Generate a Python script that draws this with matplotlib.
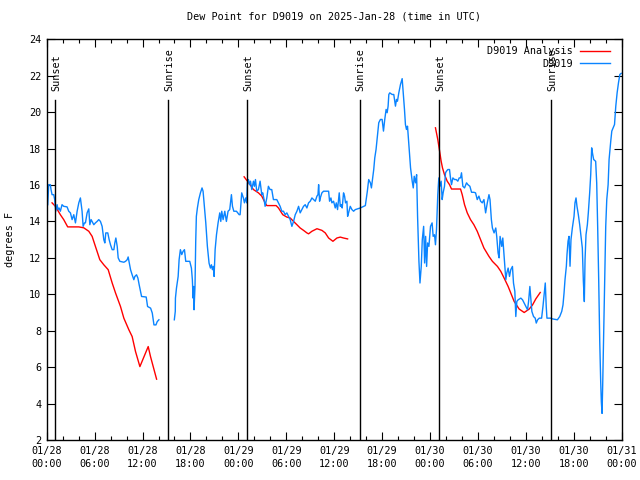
import matplotlib
matplotlib.use("Agg")
import matplotlib.pyplot as plt
import matplotlib.dates as mdates
import matplotlib.transforms as mtransforms
import numpy as np
import pandas as pd

# ---- data (hours after 2025-01-28 00:00 UTC, degrees F) ----
obs_night1 = [(0.13,14.92),(0.25,16.02),(0.46,16.02),(0.54,15.75),(0.67,15.47),(0.88,15.47),(1.0,15.2),(1.13,14.56),(1.3,14.92),(1.42,14.65),(1.55,14.74),(1.71,14.56),(1.92,14.92),(2.13,14.83),(2.55,14.8),(2.76,14.56),(2.97,14.47),(3.18,14.1),(3.39,14.37),(3.6,13.92),(3.81,14.56),(4.02,15.02),(4.22,15.29),(4.43,14.56),(4.56,13.73),(4.73,13.92),(4.85,13.92),(5.06,14.47),(5.27,14.69),(5.4,13.82),(5.56,14.1),(5.77,13.92),(5.9,13.82),(6.1,13.92),(6.31,14.0),(6.52,14.1),(6.73,14.0),(6.94,13.73),(7.15,13.0),(7.28,12.82),(7.4,13.37),(7.65,13.37),(7.82,13.0),(7.99,12.72),(8.2,12.45),(8.41,12.45),(8.53,12.82),(8.66,13.09),(8.83,12.63),(8.95,12.0),(9.16,11.81),(9.66,11.76),(9.87,11.81),(10.08,11.9),(10.2,12.05),(10.33,11.74),(10.5,11.35),(10.7,11.07),(10.91,10.8),(11.04,10.98),(11.25,11.07),(11.42,10.89),(11.58,10.52),(11.75,10.16),(11.88,9.88),(12.46,9.85),(12.63,9.33),(13.01,9.24),(13.22,8.97),(13.43,8.32),(13.68,8.32),(13.84,8.5),(14.05,8.6)]

obs_day1 = [(15.98,8.6),(16.1,9.06),(16.12,9.79),(16.25,10.34),(16.46,10.98),(16.58,11.9),(16.74,12.45),(16.91,12.18),(17.08,12.36),(17.25,12.45),(17.41,11.81),(17.91,11.81),(18.12,11.44),(18.24,10.8),(18.33,9.79),(18.4,10.43),(18.45,9.15),(18.57,10.43),(18.66,12.91),(18.74,14.28),(18.87,14.74),(19.04,15.2),(19.25,15.57),(19.45,15.84),(19.58,15.66),(19.71,15.02),(19.92,13.92),(20.12,12.63),(20.33,11.71),(20.5,11.44),(20.63,11.62),(20.75,11.35),(20.88,11.53),(20.96,10.98),(21.09,12.45),(21.26,13.27),(21.46,13.92),(21.67,14.47),(21.8,14.0),(21.92,14.56),(22.09,14.1),(22.3,14.56),(22.5,14.0),(22.71,14.56),(22.92,14.65),(23.13,15.47),(23.26,14.83),(23.43,14.56),(23.76,14.56),(24.1,14.37)]

obs_night2 = [(24.22,14.37),(24.42,15.57),(24.63,15.29),(24.76,15.02),(24.92,15.29),(25.05,15.02),(25.13,16.12),(25.26,16.3),(25.39,16.02),(25.52,16.21),(25.68,15.75),(25.89,16.21),(26.01,15.93),(26.14,16.3),(26.3,15.66),(26.51,15.75),(26.72,16.21),(26.93,15.47),(27.05,15.57),(27.22,15.2),(27.35,14.83),(27.56,15.29),(27.76,15.93),(27.97,15.75),(28.18,15.75),(28.39,15.2),(28.81,15.2),(29.02,15.02),(29.23,14.83),(29.44,14.56),(29.65,14.56),(29.86,14.37),(30.07,14.47),(30.28,14.28),(30.49,14.1),(30.7,13.73),(30.91,14.0),(31.12,14.37),(31.33,14.56),(31.54,14.83),(31.74,14.47),(31.95,14.65),(32.16,14.83),(32.37,14.92),(32.58,14.74),(32.79,15.02),(33.0,15.11),(33.21,15.29),(33.42,15.2),(33.63,15.11),(33.84,15.39),(33.97,15.47),(34.05,16.02),(34.17,15.11),(34.26,15.29),(34.46,15.57),(34.67,15.66),(35.3,15.66),(35.42,15.11),(35.59,15.29),(35.71,15.02),(35.92,15.11),(36.13,14.74),(36.26,15.02),(36.42,14.65),(36.63,15.57),(36.76,14.83),(36.88,14.92),(37.0,14.74),(37.17,15.57),(37.3,15.39),(37.42,15.02),(37.59,15.11),(37.68,14.28),(37.8,14.47),(38.01,14.83),(38.22,14.65),(38.43,14.56),(38.64,14.65)]

obs_day2 = [(39.27,14.74),(39.9,14.87),(40.03,15.29),(40.15,15.66),(40.32,16.3),(40.53,16.12),(40.66,15.84),(40.74,16.12),(40.95,16.85),(41.08,17.49),(41.24,17.95),(41.41,18.68),(41.58,19.42),(41.79,19.6),(42.0,19.6),(42.17,18.96),(42.33,19.6),(42.5,20.15),(42.63,19.97),(42.75,20.33),(42.84,20.97),(42.96,21.06),(43.25,20.97),(43.46,20.97),(43.67,20.33),(43.8,20.7),(43.92,20.6),(44.09,21.06),(44.3,21.52),(44.51,21.84),(44.63,21.15),(44.8,20.15),(44.92,19.32),(45.05,19.05),(45.18,19.23),(45.35,18.22),(45.56,16.94),(45.77,16.2),(45.9,15.84),(46.02,16.48),(46.19,16.12),(46.32,16.57),(46.44,14.28),(46.61,11.81),(46.74,10.62),(46.9,11.53),(47.03,13.0),(47.2,13.73),(47.32,11.72),(47.45,13.18),(47.57,11.53),(47.7,12.82),(47.86,12.63)]

obs_night3 = [(48.06,13.73),(48.26,13.92),(48.39,13.18),(48.56,13.27),(48.68,12.72),(48.81,13.55),(48.97,15.47),(49.1,16.39),(49.23,15.93),(49.39,16.21),(49.52,15.2),(49.64,15.57),(49.81,15.93),(49.94,16.67),(50.06,16.76),(50.23,16.85),(50.44,16.85),(50.56,16.39),(50.69,16.02),(50.86,16.39),(51.07,16.3),(51.28,16.3),(51.48,16.21),(51.65,16.39),(51.82,16.39),(51.94,16.67),(52.11,15.93),(52.32,15.84),(52.57,16.12),(52.74,16.02),(52.99,15.93),(53.2,15.6),(53.49,15.6),(53.7,15.57),(53.91,15.2),(54.12,15.39),(54.33,15.11),(54.54,15.02),(54.75,15.2),(54.96,14.47),(55.17,15.02),(55.38,15.47),(55.51,15.2),(55.68,14.1),(55.81,13.64),(56.02,13.37),(56.23,13.64),(56.35,13.18),(56.52,12.27),(56.65,12.0),(56.77,13.18),(56.98,12.63),(57.11,13.09),(57.28,12.08),(57.36,11.53),(57.49,10.8),(57.61,11.17),(57.78,11.44),(57.95,10.98),(58.11,11.35),(58.32,11.53),(58.45,10.62),(58.62,10.16),(58.74,8.78),(58.87,9.61),(59.04,9.7),(59.37,9.79),(59.58,9.7),(59.79,9.52),(60.0,9.33),(60.21,9.15),(60.34,9.61),(60.5,10.43),(60.63,9.7),(60.75,9.06),(60.96,8.78),(61.17,8.69),(61.3,8.42),(61.47,8.6),(61.68,8.69),(61.97,8.69),(62.14,9.33),(62.3,10.07),(62.43,10.62),(62.55,9.33),(62.64,8.69),(63.14,8.69)]

obs_day3 = [(63.32,8.65),(63.95,8.6),(64.24,8.78),(64.49,9.06),(64.65,9.42),(64.78,10.07),(64.9,10.8),(65.07,11.54),(65.15,12.18),(65.28,12.91),(65.4,13.18),(65.53,11.54),(65.65,13.0),(65.82,13.64),(66.03,14.28),(66.15,15.02),(66.28,15.29),(66.4,14.83),(66.57,14.37),(66.74,13.82),(66.9,13.18),(67.07,12.54),(67.2,10.71),(67.32,9.6),(67.41,11.9),(67.53,13.27),(67.7,13.82),(67.82,14.47),(67.99,15.57),(68.12,16.57),(68.24,18.04),(68.37,17.68),(68.49,17.4),(68.74,17.3),(68.87,16.11),(68.99,13.73),(69.12,10.8),(69.25,7.41),(69.37,5.2),(69.45,4.1),(69.54,3.46),(69.62,5.02),(69.75,7.96),(69.87,10.89),(70.0,13.73),(70.13,15.2),(70.3,16.02),(70.42,17.4),(70.63,18.41),(70.76,18.96),(70.93,19.14),(71.1,19.32),(71.26,20.33),(71.43,21.07),(71.6,21.62),(71.77,22.07),(71.94,22.13)]

ana_night1 = [(0.67,15.02),(1.09,14.83),(1.71,14.37),(2.13,14.1),(2.63,13.7),(4.02,13.7),(4.64,13.65),(5.27,13.46),(5.69,13.18),(6.1,12.63),(6.65,11.9),(7.15,11.62),(7.7,11.35),(8.2,10.62),(8.62,10.07),(9.24,9.33),(9.66,8.69),(10.29,8.05),(10.7,7.68),(11.12,6.86),(11.67,6.03),(12.71,7.13),(13.0,6.58),(13.76,5.34)]

ana_night2 = [(24.72,16.45),(25.13,16.21),(25.47,16.02),(25.89,15.75),(26.51,15.57),(26.93,15.39),(27.35,15.02),(27.56,14.87),(28.73,14.87),(29.02,14.74),(29.56,14.37),(30.07,14.24),(30.49,14.19),(30.91,14.0),(31.33,13.82),(31.74,13.64),(32.16,13.51),(32.58,13.37),(32.79,13.32),(33.21,13.46),(33.84,13.6),(34.46,13.51),(34.88,13.37),(35.3,13.09),(35.84,12.91),(36.34,13.09),(36.76,13.14),(37.17,13.09),(37.68,13.04)]

ana_night3 = [(48.68,19.14),(48.97,18.5),(49.23,17.77),(49.39,17.31),(49.56,16.94),(49.81,16.57),(50.15,16.21),(50.44,16.02),(50.69,15.78),(51.82,15.78),(52.03,15.47),(52.32,14.92),(52.66,14.47),(53.07,14.1),(53.49,13.82),(53.91,13.46),(54.33,13.0),(54.75,12.54),(55.38,12.08),(55.81,11.81),(56.44,11.53),(56.86,11.26),(57.28,10.89),(57.78,10.43),(58.11,10.07),(58.53,9.61),(59.16,9.19),(59.79,9.0),(60.42,9.19),(60.84,9.42),(61.25,9.75),(61.8,10.1)]

sun_hours = [1.1, 15.22, 25.12, 39.17, 49.15, 63.2]
sun_labels = ["Sunset", "Sunrise", "Sunset", "Sunrise", "Sunset", "Sunrise"]

y_ticks = [2, 4, 6, 8, 10, 12, 14, 16, 18, 20, 22, 24]
title = "Dew Point for D9019 on 2025-Jan-28 (time in UTC)"
ylabel = "degrees F"
series_names = ["D9019 Analysis", "D9019"]

base = pd.Timestamp("2025-01-28 00:00")


def join(segments):
    xs, ys = [], []
    for seg in segments:
        for h, v in seg:
            xs.append(base + pd.Timedelta(hours=h))
            ys.append(v)
        xs.append(xs[-1])
        ys.append(np.nan)
    return pd.to_datetime(xs), np.array(ys)


FONT = "DejaVu Sans Mono"
FS = 7.3
plt.rcParams["font.family"] = FONT
plt.rcParams["font.size"] = FS

fig = plt.figure(figsize=(6.4, 4.8), dpi=100)
ax = fig.add_axes([46.7 / 640, 1 - 440 / 480, 575 / 640, 400.7 / 480])

RED = "#ff0000"
BLUE = "#0a84ff"

ox, oy = join([obs_night1, obs_day1 + obs_night2 + obs_day2 + obs_night3 + obs_day3])
ax_x, ax_y = join([ana_night1, ana_night2, ana_night3])

ax.plot(ax_x, ax_y, color=RED, lw=1.0, label=series_names[0])
ax.plot(ox, oy, color=BLUE, lw=1.0, label=series_names[1])

trans = mtransforms.blended_transform_factory(ax.transData, ax.transAxes)
for h, lab in zip(sun_hours, sun_labels):
    t = mdates.date2num(base + pd.Timedelta(hours=h))
    ax.plot([t, t], [0, 0.848], color="black", lw=1.0, transform=trans)
    ax.text(t + 0.005, 0.87, lab, rotation=90, ha="center", va="bottom",
            transform=trans, fontsize=FS)

ax.set_xlim(base, base + pd.Timedelta(hours=72))
ax.set_ylim(2, 24)
ax.set_yticks(y_ticks)
ax.xaxis.set_major_locator(mdates.HourLocator(byhour=[0, 6, 12, 18]))
ax.xaxis.set_minor_locator(mdates.HourLocator(byhour=range(0, 24, 2)))
ax.xaxis.set_major_formatter(mdates.DateFormatter("%m/%d\n%H:%M"))
for lbl in ax.get_xticklabels():
    lbl.set_linespacing(1.45)

ax.tick_params(which="both", direction="in", top=True, right=True, width=0.8)
ax.tick_params(which="major", length=6, pad=4, labelsize=FS)
ax.tick_params(which="minor", length=3)
for s in ax.spines.values():
    s.set_linewidth(1.0)

ax.set_title(title, fontsize=FS, pad=14)
ax.set_ylabel(ylabel, fontsize=FS)
ax.yaxis.set_label_coords(-0.055, 0.5)

ax.legend(loc="upper right", bbox_to_anchor=(1 - 8 / 575, 1 - 3 / 400),
          frameon=False, markerfirst=False, handlelength=2.9,
          handletextpad=0.7, labelspacing=0.25, borderaxespad=0.2, borderpad=0.2,
          fontsize=FS)

fig.savefig("out.png", dpi=100)
